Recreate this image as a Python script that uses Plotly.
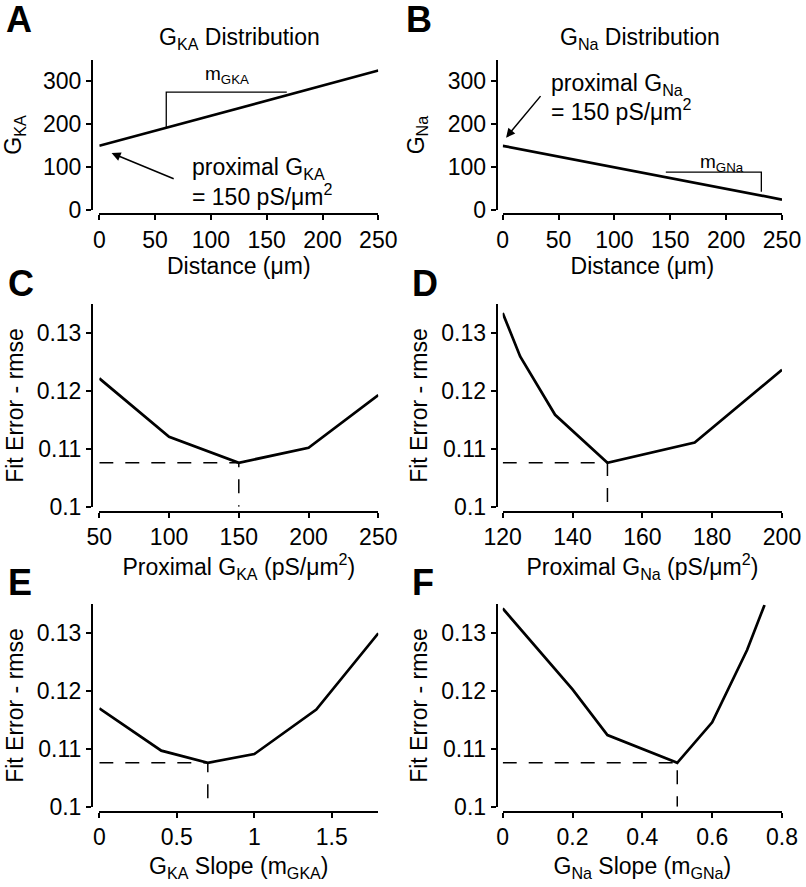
import plotly.graph_objects as go
import numpy as np

# ---------------- data ----------------
dist_um = [0, 250]
gka_dist = [150, 325]          # G_KA along dendrite (slope 0.7)
gna_dist = [150, 25]           # G_Na along dendrite (slope -0.5)

prox_gka_x = [50, 100, 150, 200, 250]
prox_gka_err = [0.1222, 0.1121, 0.1076, 0.1102, 0.1193]

prox_gna_x = [120, 125, 135, 150, 175, 200]
prox_gna_err = [0.1335, 0.1260, 0.1159, 0.1076, 0.1111, 0.1237]

slope_gka_x = [0, 0.4, 0.7, 1.0, 1.4, 1.8]
slope_gka_err = [0.1170, 0.1097, 0.1076, 0.1091, 0.1168, 0.1300]

slope_gna_x = [0, 0.2, 0.3, 0.5, 0.6, 0.7, 0.75]
slope_gna_err = [0.1343, 0.1203, 0.1124, 0.1076, 0.1146, 0.1271, 0.1349]

dist_ticks = [0, 50, 100, 150, 200, 250]
g_ticks = [0, 100, 200, 300]
err_ticks = [0.1, 0.11, 0.12, 0.13]
err_ticktext = ["0.1", "0.11", "0.12", "0.13"]
prox_gka_ticks = [50, 100, 150, 200, 250]
prox_gna_ticks = [120, 140, 160, 180, 200]
slope_gka_ticks = [0, 0.5, 1, 1.5]
slope_gka_ticktext = ["0", "0.5", "1", "1.5"]
slope_gna_ticks = [0, 0.2, 0.4, 0.6, 0.8]
slope_gna_ticktext = ["0", "0.2", "0.4", "0.6", "0.8"]

# ---------------- geometry helpers ----------------
W, H = 806, 887
def fx(px):
    return px / W
def fy(py):
    return 1 - py / H

FONT = "Liberation Sans, Arial, Helvetica, sans-serif"
FS = 23
LEFT = (99.3, 378.3)
RIGHT = (502.7, 782.0)
YAX_L = 92
YAX_R = 496.7
ROWS = [  # (top px, bottom px, x-axis line px)
    (59.8, 210.3, 214.0),
    (304.4, 506.7, 511.7),
    (604.4, 806.7, 811.7),
]
XT_STANDOFF = [5, 2, 8]
YT_STANDOFF = [16, 6, 6]


def xaxis(col, row, rng, tickvals, ticktext, title):
    d = LEFT if col == 0 else RIGHT
    return dict(domain=[fx(d[0]), fx(d[1])], anchor="free", position=fy(ROWS[row][2]),
                range=rng, tickvals=tickvals, ticktext=ticktext, automargin=False,
                ticklabeloverflow="allow",
                showline=True, linecolor="black", linewidth=2,
                ticks="outside", ticklen=5, tickwidth=2, tickcolor="black",
                showgrid=False, zeroline=False, tickfont=dict(size=FS, color="black"),
                title=dict(text=title, font=dict(size=FS, color="black"),
                           standoff=XT_STANDOFF[row]),
                fixedrange=True)


def yaxis(col, row, rng, tickvals, ticktext, title):
    p = YAX_L if col == 0 else YAX_R
    top, bot, _ = ROWS[row]
    return dict(domain=[fy(bot), fy(top)], anchor="free", position=fx(p),
                range=rng, tickvals=tickvals, ticktext=ticktext, automargin=False,
                showline=True, linecolor="black", linewidth=2,
                ticks="outside", ticklen=5, tickwidth=2, tickcolor="black",
                showgrid=False, zeroline=False, tickfont=dict(size=FS, color="black"),
                title=dict(text=title, font=dict(size=FS, color="black"),
                           standoff=YT_STANDOFF[row]),
                fixedrange=True)


fig = go.Figure()
LINE = dict(color="black", width=2.7)
DASH = dict(color="black", width=1.5, dash="14px,12px")

# A
fig.add_trace(go.Scatter(x=dist_um, y=gka_dist, mode="lines", line=LINE, xaxis="x", yaxis="y"))
# B
fig.add_trace(go.Scatter(x=dist_um, y=gna_dist, mode="lines", line=LINE, xaxis="x2", yaxis="y2"))

panels = [
    (prox_gka_x, prox_gka_err, "x3", "y3"),
    (prox_gna_x, prox_gna_err, "x4", "y4"),
    (slope_gka_x, slope_gka_err, "x5", "y5"),
    (slope_gna_x, slope_gna_err, "x6", "y6"),
]
xmins = [50, 120, 0, 0]
for (xs, ys, xa, ya), xmin in zip(panels, xmins):
    i = int(np.argmin(ys))
    fig.add_trace(go.Scatter(x=[xmin, xs[i], xs[i]], y=[ys[i], ys[i], 0.1], mode="lines",
                             line=DASH, xaxis=xa, yaxis=ya))
    fig.add_trace(go.Scatter(x=xs, y=ys, mode="lines", line=LINE, xaxis=xa, yaxis=ya))

# slope brackets
fig.add_trace(go.Scatter(x=[60, 60, 168], y=[192, 275, 275], mode="lines",
                         line=dict(color="black", width=1.3), xaxis="x", yaxis="y"))
fig.add_trace(go.Scatter(x=[146, 231.5, 231.5], y=[89, 89, 43], mode="lines",
                         line=dict(color="black", width=1.3), xaxis="x2", yaxis="y2"))

err_rng = [0.1, 0.135]
fig.update_layout(
    template="none",
    width=W, height=H, margin=dict(l=0, r=0, t=0, b=0, pad=0),
    paper_bgcolor="white", plot_bgcolor="white", showlegend=False,
    font=dict(family=FONT, color="black", size=FS),
    xaxis=xaxis(0, 0, [0, 250], dist_ticks, [str(v) for v in dist_ticks], "Distance (μm)"),
    yaxis=yaxis(0, 0, [0, 350], g_ticks, [str(v) for v in g_ticks], "G<sub>KA</sub>"),
    xaxis2=xaxis(1, 0, [0, 250], dist_ticks, [str(v) for v in dist_ticks], "Distance (μm)"),
    yaxis2=yaxis(1, 0, [0, 350], g_ticks, [str(v) for v in g_ticks], "G<sub>Na</sub>"),
    xaxis3=xaxis(0, 1, [50, 250], prox_gka_ticks, [str(v) for v in prox_gka_ticks],
                 "Proximal G<sub>KA</sub> (pS/μm<sup>2</sup>)"),
    yaxis3=yaxis(0, 1, err_rng, err_ticks, err_ticktext, "Fit Error - rmse"),
    xaxis4=xaxis(1, 1, [120, 200], prox_gna_ticks, [str(v) for v in prox_gna_ticks],
                 "Proximal G<sub>Na</sub> (pS/μm<sup>2</sup>)"),
    yaxis4=yaxis(1, 1, err_rng, err_ticks, err_ticktext, "Fit Error - rmse"),
    xaxis5=xaxis(0, 2, [0, 1.8], slope_gka_ticks, slope_gka_ticktext,
                 "G<sub>KA</sub> Slope (m<sub>GKA</sub>)"),
    yaxis5=yaxis(0, 2, err_rng, err_ticks, err_ticktext, "Fit Error - rmse"),
    xaxis6=xaxis(1, 2, [0, 0.8], slope_gna_ticks, slope_gna_ticktext,
                 "G<sub>Na</sub> Slope (m<sub>GNa</sub>)"),
    yaxis6=yaxis(1, 2, err_rng, err_ticks, err_ticktext, "Fit Error - rmse"),
)

ann = []
# panel letters
for letter, px, py in [("A", 4, 20), ("B", 404, 20), ("C", 6, 283), ("D", 410, 283),
                       ("E", 6, 582), ("F", 410, 582)]:
    ann.append(dict(text=f"<b>{letter}</b>", x=fx(px), y=fy(py), xref="paper", yref="paper",
                    xanchor="left", yanchor="middle", showarrow=False,
                    font=dict(size=36, family=FONT, color="black")))
# panel titles
ann.append(dict(text="G<sub>KA</sub> Distribution", x=fx(240), y=fy(38), xref="paper", yref="paper",
                xanchor="center", yanchor="middle", showarrow=False, font=dict(size=FS)))
ann.append(dict(text="G<sub>Na</sub> Distribution", x=fx(640), y=fy(38), xref="paper", yref="paper",
                xanchor="center", yanchor="middle", showarrow=False, font=dict(size=FS)))
# A annotations
ann.append(dict(text="m<sub>GKA</sub>", x=114, y=314, xref="x", yref="y", showarrow=False,
                xanchor="center", yanchor="middle", font=dict(size=19)))
ann.append(dict(text="", x=11, y=133, ax=68, ay=72, xref="x", yref="y", axref="x", ayref="y",
                showarrow=True, arrowhead=2, arrowsize=1.2, arrowwidth=1.5, arrowcolor="black"))
ann.append(dict(text="proximal G<sub>KA</sub>", x=81, y=98, xref="x", yref="y", showarrow=False,
                xanchor="left", yanchor="middle", font=dict(size=FS)))
ann.append(dict(text="= 150 pS/μm<sup>2</sup>", x=81, y=35, xref="x", yref="y", showarrow=False,
                xanchor="left", yanchor="middle", font=dict(size=FS)))
# B annotations
ann.append(dict(text="m<sub>GNa</sub>", x=196, y=111, xref="x2", yref="y2", showarrow=False,
                xanchor="center", yanchor="middle", font=dict(size=19)))
ann.append(dict(text="", x=3, y=169, ax=35, ay=269, xref="x2", yref="y2", axref="x2", ayref="y2",
                showarrow=True, arrowhead=2, arrowsize=1.2, arrowwidth=1.5, arrowcolor="black"))
ann.append(dict(text="proximal G<sub>Na</sub>", x=41, y=292, xref="x2", yref="y2", showarrow=False,
                xanchor="left", yanchor="middle", font=dict(size=FS)))
ann.append(dict(text="= 150 pS/μm<sup>2</sup>", x=41, y=234, xref="x2", yref="y2", showarrow=False,
                xanchor="left", yanchor="middle", font=dict(size=FS)))
fig.update_layout(annotations=ann)

# remove the default 8px page margin so the 806x887 figure fills the window exactly
fig.write_html("out.html", config={"displayModeBar": False},
               post_script="document.body.style.margin='0';")
